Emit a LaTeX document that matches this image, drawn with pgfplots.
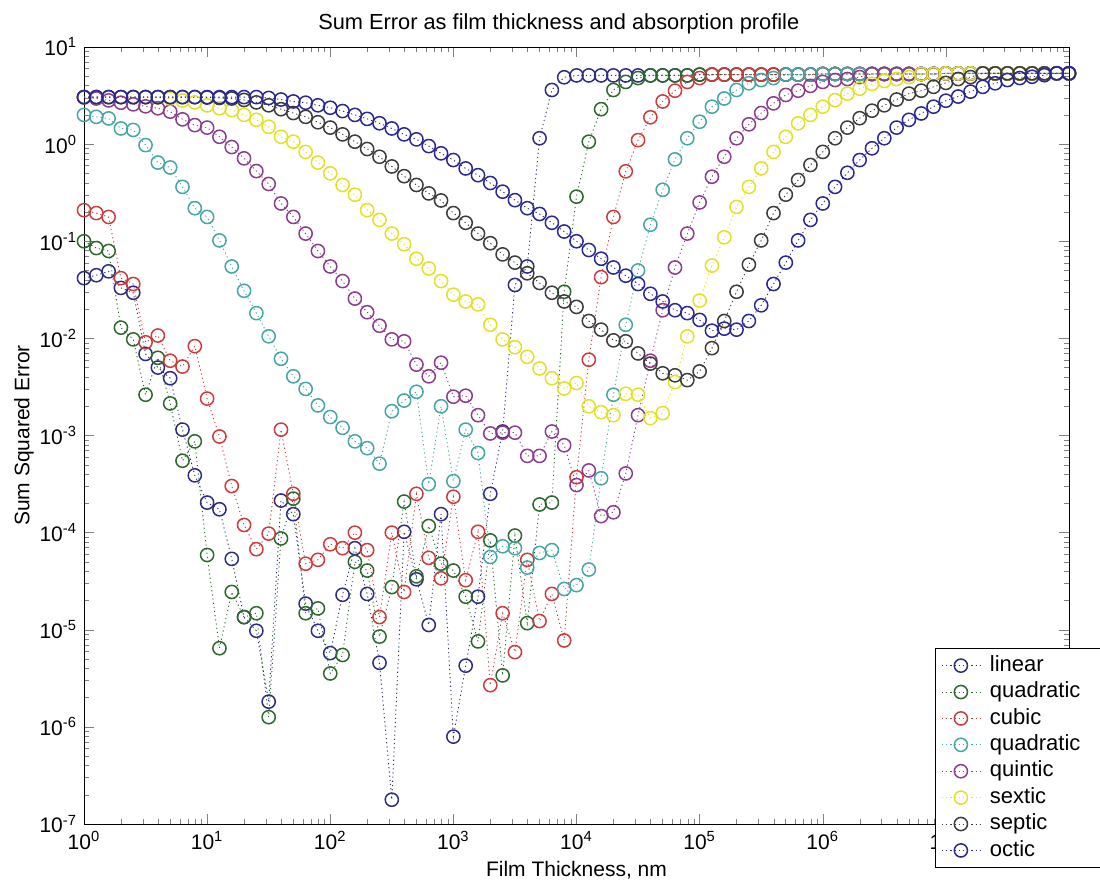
\documentclass[border=0pt]{standalone}
\usepackage{fontspec}
\setmainfont{Liberation Sans}
\usepackage{pgfplots}
\usepackage{pgfplotstable}
\pgfplotsset{compat=1.18}
\definecolor{cL}{RGB}{45,45,130}
\definecolor{cQ}{RGB}{45,105,45}
\definecolor{cC}{RGB}{205,60,60}
\definecolor{cU}{RGB}{70,165,165}
\definecolor{cM}{RGB}{140,60,140}
\definecolor{cY}{RGB}{225,225,40}
\definecolor{cK}{RGB}{60,60,60}
\definecolor{cO}{RGB}{40,40,150}
\pgfplotstableread{
x L Q C U M Y K O
1 4.17e-2 1.00e-1 2.09e-1 2.00 3.02 3.05 3.05 3.05
1.259 4.47e-2 8.51e-2 1.95e-1 1.91 2.95 3.05 3.05 3.05
1.585 4.90e-2 7.94e-2 1.78e-1 1.84 2.82 3.05 3.05 3.05
1.995 3.31e-2 1.29e-2 4.17e-2 1.45 2.67 3.05 3.05 3.05
2.512 2.95e-2 9.77e-3 3.63e-2 1.40 2.57 3.05 3.05 3.05
3.162 6.92e-3 2.63e-3 9.12e-3 9.77e-1 2.45 3.05 3.05 3.05
3.981 5.01e-3 6.31e-3 1.07e-2 6.46e-1 2.34 3.02 3.05 3.05
5.012 3.89e-3 2.14e-3 5.89e-3 5.75e-1 2.16 2.95 3.05 3.05
6.310 1.15e-3 5.50e-4 5.13e-3 3.63e-1 1.80 2.82 3.05 3.05
7.943 3.89e-4 8.71e-4 8.32e-3 2.19e-1 1.57 2.69 3.05 3.05
1e1 2.04e-4 5.89e-5 2.40e-3 1.78e-1 1.48 2.51 3.02 3.05
1.259e1 1.74e-4 6.46e-6 9.77e-4 1.02e-1 1.19 2.34 2.99 3.05
1.585e1 5.37e-5 2.45e-5 3.02e-4 5.50e-2 9.33e-1 2.24 2.95 3.05
1.995e1 1.35e-5 1.35e-5 1.20e-4 3.09e-2 7.14e-1 2.00 2.85 3.05
2.512e1 9.77e-6 1.48e-5 6.76e-5 1.82e-2 5.28e-1 1.78 2.69 3.05
3.162e1 1.82e-6 1.26e-6 9.77e-5 1.05e-2 3.89e-1 1.51 2.51 2.99
3.981e1 2.14e-4 8.71e-5 1.15e-3 6.17e-3 2.45e-1 1.19 2.29 2.88
5.012e1 1.55e-4 2.24e-4 2.51e-4 4.07e-3 1.78e-1 1.06 2.09 2.75
6.310e1 1.86e-5 1.48e-5 4.79e-5 3.02e-3 1.20e-1 8.32e-1 1.91 2.67
7.943e1 9.77e-6 1.66e-5 5.25e-5 2.04e-3 7.94e-2 6.46e-1 1.68 2.51
1e2 5.75e-6 3.55e-6 7.59e-5 1.55e-3 5.50e-2 5.01e-1 1.48 2.37
1.259e2 2.29e-5 5.50e-6 6.92e-5 1.20e-3 3.89e-2 3.80e-1 1.26 2.19
1.585e2 6.92e-5 5.01e-5 1.00e-4 8.71e-4 2.57e-2 3.02e-1 1.06 2.00
1.995e2 2.34e-5 4.07e-5 6.61e-5 7.41e-4 1.86e-2 2.09e-1 8.91e-1 1.82
2.512e2 4.57e-6 8.51e-6 1.35e-5 5.13e-4 1.35e-2 1.66e-1 7.41e-1 1.64
3.162e2 1.78e-7 2.75e-5 1.00e-4 1.78e-3 9.77e-3 1.20e-1 5.89e-1 1.45
3.981e2 1.02e-4 2.09e-4 2.45e-5 2.29e-3 9.33e-3 9.33e-2 4.68e-1 1.26
5.012e2 3.31e-5 3.55e-5 2.51e-4 2.82e-3 5.37e-3 6.61e-2 3.80e-1 1.12
6.310e2 1.12e-5 1.17e-4 5.50e-5 3.16e-4 4.07e-3 5.25e-2 3.11e-1 9.55e-1
7.943e2 1.55e-4 4.79e-5 3.39e-5 2.00e-3 5.62e-3 3.89e-2 2.63e-1 8.04e-1
1e3 7.94e-7 4.07e-5 2.34e-4 3.39e-4 2.51e-3 2.82e-2 1.95e-1 6.86e-1
1.259e3 4.27e-6 2.19e-5 3.24e-5 1.15e-3 2.57e-3 2.40e-2 1.55e-1 5.62e-1
1.585e3 2.19e-5 7.59e-6 1.02e-4 6.61e-4 1.62e-3 2.24e-2 1.20e-1 4.79e-1
1.995e3 2.51e-4 8.32e-5 2.69e-6 5.62e-5 1.05e-3 1.38e-2 9.55e-2 3.98e-1
2.512e3 1.10e-3 3.39e-6 1.48e-5 7.24e-5 1.07e-3 9.77e-3 7.33e-2 3.24e-1
3.162e3 3.55e-2 9.33e-5 5.89e-6 6.92e-5 1.07e-3 8.13e-3 6.03e-2 2.65e-1
3.981e3 5.50e-2 1.17e-5 5.25e-5 4.37e-5 6.17e-4 6.46e-3 4.68e-2 2.19e-1
5.012e3 1.15 1.95e-4 1.23e-5 6.17e-5 6.17e-4 4.90e-3 3.72e-2 1.91e-1
6.310e3 3.61 2.04e-4 2.34e-5 6.61e-5 1.10e-3 3.89e-3 2.95e-2 1.55e-1
7.943e3 4.88 3.02e-2 7.76e-6 2.63e-5 7.94e-4 3.05e-3 2.40e-2 1.26e-1
1e4 5.10 2.88e-1 3.72e-4 2.88e-5 3.09e-4 3.47e-3 2.11e-2 1.00e-1
1.259e4 5.10 1.06 6.03e-3 4.17e-5 4.37e-4 2.00e-3 1.51e-2 8.13e-2
1.585e4 5.10 2.29 4.27e-2 3.63e-4 1.48e-4 1.74e-3 1.23e-2 6.61e-2
1.995e4 5.10 3.61 1.78e-1 2.63e-3 1.62e-4 1.62e-3 9.55e-3 5.37e-2
2.512e4 5.10 4.37 5.25e-1 1.38e-2 4.07e-4 2.69e-3 9.33e-3 4.42e-2
3.162e4 5.10 4.79 1.10 5.01e-2 1.62e-3 2.63e-3 7.00e-3 3.63e-2
3.981e4 5.10 5.10 1.89 1.48e-1 5.89e-3 1.51e-3 5.50e-3 2.88e-2
5.012e4 5.10 5.10 2.75 3.39e-1 1.95e-2 1.70e-3 4.37e-3 2.40e-2
6.310e4 5.10 5.10 3.55 6.97e-1 5.37e-2 3.55e-3 4.17e-3 1.95e-2
7.943e4 5.10 5.10 4.37 1.15 1.20e-1 1.05e-2 3.72e-3 1.82e-2
1e5 5.20 5.20 4.79 1.70 2.51e-1 2.45e-2 4.57e-3 1.55e-2
1.259e5 5.20 5.20 5.20 2.43 4.62e-1 5.62e-2 7.94e-3 1.20e-2
1.585e5 5.20 5.20 5.20 2.95 7.41e-1 1.10e-1 1.51e-2 1.26e-2
1.995e5 5.20 5.20 5.20 3.61 1.15 2.26e-1 3.02e-2 1.23e-2
2.512e5 5.20 5.20 5.20 4.23 1.60 3.63e-1 5.75e-2 1.51e-2
3.162e5 5.20 5.20 5.20 4.57 2.09 5.62e-1 1.02e-1 2.19e-2
3.981e5 5.20 5.20 5.20 4.79 2.63 8.32e-1 1.95e-1 3.63e-2
5.012e5 5.20 5.20 5.20 5.20 3.21 1.19 3.02e-1 6.03e-2
6.310e5 5.20 5.20 5.20 5.20 3.55 1.64 4.27e-1 1.02e-1
7.943e5 5.20 5.20 5.20 5.20 3.98 2.00 6.10e-1 1.66e-1
1e6 5.28 5.28 5.28 5.28 4.37 2.43 8.32e-1 2.45e-1
1.259e6 5.28 5.28 5.28 5.28 4.57 2.84 1.15 3.63e-1
1.585e6 5.28 5.28 5.28 5.28 4.68 3.31 1.48 5.07e-1
1.995e6 5.28 5.28 5.28 5.28 4.90 3.72 1.85 6.86e-1
2.512e6 5.28 5.28 5.28 5.28 5.28 4.17 2.21 9.06e-1
3.162e6 5.28 5.28 5.28 5.28 5.28 4.47 2.51 1.15
3.981e6 5.28 5.28 5.28 5.28 5.28 4.68 2.88 1.48
5.012e6 5.28 5.28 5.28 5.28 5.28 4.90 3.31 1.78
6.310e6 5.28 5.28 5.28 5.28 5.28 5.28 3.55 2.07
7.943e6 5.28 5.28 5.28 5.28 5.28 5.28 3.89 2.43
1e7 5.35 5.35 5.35 5.35 5.35 5.35 4.27 2.80
1.259e7 5.35 5.35 5.35 5.35 5.35 5.35 4.68 3.09
1.585e7 5.35 5.35 5.35 5.35 5.35 5.35 4.90 3.47
1.995e7 5.35 5.35 5.35 5.35 5.35 5.35 5.35 3.89
2.512e7 5.35 5.35 5.35 5.35 5.35 5.35 5.35 4.23
3.162e7 5.35 5.35 5.35 5.35 5.35 5.35 5.35 4.57
3.981e7 5.35 5.35 5.35 5.35 5.35 5.35 5.35 4.79
5.012e7 5.35 5.35 5.35 5.35 5.35 5.35 5.35 4.94
6.310e7 5.35 5.35 5.35 5.35 5.35 5.35 5.35 5.13
7.943e7 5.35 5.35 5.35 5.35 5.35 5.35 5.35 5.37
1e8 5.35 5.35 5.35 5.35 5.35 5.35 5.35 5.37
}\data
\pgfplotsset{
  ser/.style={#1, line width=0.45pt, dash pattern=on 0.6pt off 1.5pt,
    mark=o, mark size=3.3pt, mark options={solid, line width=0.75pt}},
}
\newcommand{\legtxt}[1]{\makebox[72pt][l]{\hspace{3pt}#1}}
\begin{document}
\begin{tikzpicture}
\begin{axis}[name=ax, scale only axis, width=492.5pt, height=388.5pt,
  xmode=log, ymode=log, xmin=1, xmax=1e8, ymin=1e-7, ymax=1e1,
  xtick={1,10,100,1000,1e4,1e5,1e6,1e7,1e8},
  xticklabels={10\textsuperscript{0},10\textsuperscript{1},10\textsuperscript{2},10\textsuperscript{3},10\textsuperscript{4},10\textsuperscript{5},10\textsuperscript{6},10\textsuperscript{7},10\textsuperscript{8}},
  minor xtick={2,3,4,5,6,7,8,9,20,30,40,50,60,70,80,90,200,300,400,500,600,700,800,900,2e3,3e3,4e3,5e3,6e3,7e3,8e3,9e3,2e4,3e4,4e4,5e4,6e4,7e4,8e4,9e4,2e5,3e5,4e5,5e5,6e5,7e5,8e5,9e5,2e6,3e6,4e6,5e6,6e6,7e6,8e6,9e6,2e7,3e7,4e7,5e7,6e7,7e7,8e7,9e7},
  ytick={1e-7,1e-6,1e-5,1e-4,1e-3,1e-2,1e-1,1,10},
  yticklabels={10\textsuperscript{-7},10\textsuperscript{-6},10\textsuperscript{-5},10\textsuperscript{-4},10\textsuperscript{-3},10\textsuperscript{-2},10\textsuperscript{-1},10\textsuperscript{0},10\textsuperscript{1}},
  minor ytick={2e-7,3e-7,4e-7,5e-7,6e-7,7e-7,8e-7,9e-7,2e-6,3e-6,4e-6,5e-6,6e-6,7e-6,8e-6,9e-6,2e-5,3e-5,4e-5,5e-5,6e-5,7e-5,8e-5,9e-5,2e-4,3e-4,4e-4,5e-4,6e-4,7e-4,8e-4,9e-4,2e-3,3e-3,4e-3,5e-3,6e-3,7e-3,8e-3,9e-3,2e-2,3e-2,4e-2,5e-2,6e-2,7e-2,8e-2,9e-2,0.2,0.3,0.4,0.5,0.6,0.7,0.8,0.9,2,3,4,5,6,7,8,9},
  tick align=inside, major tick length=5pt, minor tick length=2.5pt,
  tick label style={font=\fontsize{10.5}{12}\selectfont},
  title={Sum Error as film thickness and absorption profile},
  every axis title/.style={at={(0.482,1.0219)}, anchor=base, font=\fontsize{10.9}{12}\selectfont},
  xlabel={Film Thickness, nm},
  xlabel style={at={(0.5,-0.0592)}, anchor=center, font=\fontsize{10.5}{12}\selectfont},
  ylabel={Sum Squared Error},
  ylabel style={at={(-0.0609,0.5)}, anchor=center, font=\fontsize{10.5}{12}\selectfont},
  legend cell align=left,
  legend image code/.code={\draw[mark repeat=2,mark phase=2,#1] plot coordinates {(0pt,0pt) (9.5pt,0pt) (19pt,0pt)};},
  legend style={at={(0.864,0.2265)}, anchor=north west, draw=black, fill=white,
    font=\fontsize{11}{12}\selectfont, nodes={inner sep=1.8pt, text height=7.6pt, text depth=2pt}},
]
\addplot[ser=cL] table[x=x,y=L]{\data};
\addplot[ser=cQ] table[x=x,y=Q]{\data};
\addplot[ser=cC] table[x=x,y=C]{\data};
\addplot[ser=cU] table[x=x,y=U]{\data};
\addplot[ser=cM] table[x=x,y=M]{\data};
\addplot[ser=cY] table[x=x,y=Y]{\data};
\addplot[ser=cK] table[x=x,y=K]{\data};
\addplot[ser=cO] table[x=x,y=O]{\data};
\legend{\legtxt{linear},\legtxt{quadratic},\legtxt{cubic},\legtxt{quadratic},\legtxt{quintic},\legtxt{sextic},\legtxt{septic},\legtxt{octic}}
\end{axis}
\pgfresetboundingbox
\path ([shift={(-42pt,-33pt)}]ax.south west) rectangle ([shift={(15.5pt,23.5pt)}]ax.north east);
\end{tikzpicture}
\end{document}
